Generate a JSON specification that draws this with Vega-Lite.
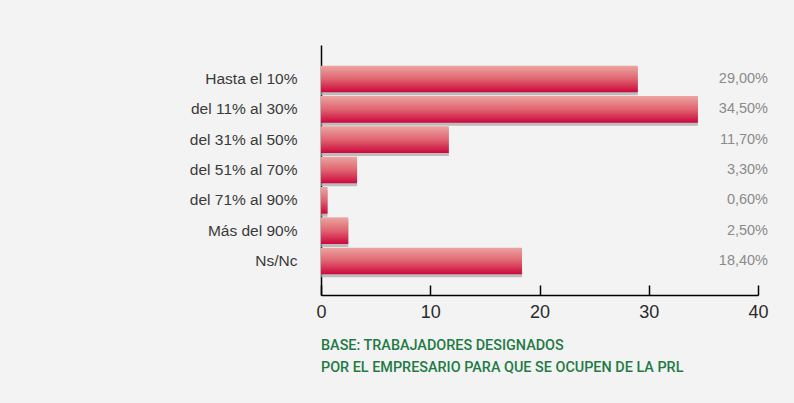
{
  "$schema": "https://vega.github.io/schema/vega-lite/v6.json",
  "width": 437,
  "height": 250,
  "autosize": "none",
  "padding": {"left": 321, "top": 45, "right": 36, "bottom": 108},
  "background": "#f3f3f3",
  "data": {
    "values": [
      {"category": "Hasta el 10%", "value": 29.0, "label": "29,00%"},
      {"category": "del 11% al 30%", "value": 34.5, "label": "34,50%"},
      {"category": "del 31% al 50%", "value": 11.7, "label": "11,70%"},
      {"category": "del 51% al 70%", "value": 3.3, "label": "3,30%"},
      {"category": "del 71% al 90%", "value": 0.6, "label": "0,60%"},
      {"category": "Más del 90%", "value": 2.5, "label": "2,50%"},
      {"category": "Ns/Nc", "value": 18.4, "label": "18,40%"}
    ]
  },
  "title": {
    "text": ["BASE: TRABAJADORES DESIGNADOS", "POR EL EMPRESARIO PARA QUE SE OCUPEN DE LA PRL"],
    "orient": "bottom",
    "anchor": "start",
    "frame": "group",
    "font": "Roboto, Liberation Sans, sans-serif",
    "fontSize": 14.4,
    "fontWeight": 500,
    "color": "#1f7a45",
    "lineHeight": 22,
    "offset": 18
  },
  "encoding": {
    "y": {
      "field": "category",
      "type": "nominal",
      "sort": null,
      "scale": {"paddingInner": 0.12, "paddingOuter": 0.68},
      "axis": {
        "title": null,
        "ticks": false,
        "domainColor": "#000000",
        "domainWidth": 1.5,
        "labelPadding": 24,
        "labelFont": "Liberation Sans, sans-serif",
        "labelFontSize": 15.5,
        "labelColor": "#3a3a3a"
      }
    }
  },
  "layer": [
    {
      "mark": {"type": "bar", "color": "#a9a9a9", "opacity": 0.75, "yOffset": 3, "x2Offset": 2},
      "encoding": {
        "x": {"field": "value", "type": "quantitative"}
      }
    },
    {
      "mark": {
        "type": "bar",
        "color": {
          "gradient": "linear",
          "x1": 0, "y1": 0, "x2": 0, "y2": 1,
          "stops": [
            {"offset": 0, "color": "#eca5a1"},
            {"offset": 0.5, "color": "#e06470"},
            {"offset": 1, "color": "#cc073d"}
          ]
        }
      },
      "encoding": {
        "x": {
          "field": "value",
          "type": "quantitative",
          "scale": {"domain": [0, 40], "nice": false},
          "axis": {
            "title": null,
            "values": [0, 10, 20, 30, 40],
            "grid": false,
            "domainColor": "#000000",
            "domainWidth": 1.5,
            "tickColor": "#000000",
            "tickWidth": 1.5,
            "tickSize": -10,
            "labelFlush": false,
            "labelPadding": 18,
            "labelFont": "Liberation Sans, sans-serif",
            "labelFontSize": 18,
            "labelColor": "#2a2a2a"
          }
        }
      }
    },
    {
      "mark": {
        "type": "text",
        "align": "right",
        "baseline": "middle",
        "dx": 10,
        "font": "Liberation Sans, sans-serif",
        "fontSize": 14.5,
        "color": "#8a8a8a"
      },
      "encoding": {
        "x": {"datum": 40},
        "text": {"field": "label"}
      }
    }
  ],
  "config": {
    "view": {"stroke": null}
  }
}
